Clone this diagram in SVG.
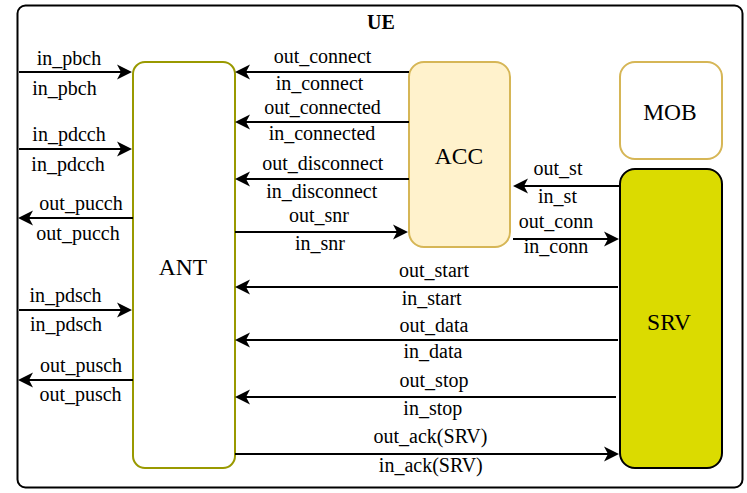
<svg xmlns="http://www.w3.org/2000/svg" width="747" height="493" viewBox="0 0 747 493">
<defs>
<marker id="arr" markerUnits="userSpaceOnUse" viewBox="-16 -8 17 16" refX="-3" refY="0" markerWidth="17" markerHeight="16" orient="auto">
<path d="M0,0 L-15,-7.5 L-11,0 L-15,7.5 Z" fill="#000"/>
</marker>
</defs>
<style>
.lbl{font-family:"Liberation Serif","Times New Roman",serif;font-size:20px;fill:#000;text-anchor:middle}
.nlbl{font-family:"Liberation Serif","Times New Roman",serif;font-size:23.5px;fill:#000;text-anchor:middle}
.edge{stroke:#000;stroke-width:2;fill:none;marker-end:url(#arr)}
</style>
<rect width="747" height="493" fill="#fff"/>
<g id="UE">
<rect x="17.5" y="5.5" width="725" height="482" rx="8" fill="#fff" stroke="#000" stroke-width="2"/>
<text x="381" y="29" class="nlbl" style="font-weight:bold;font-size:20px">UE</text>
</g>
<g id="ANT">
<rect x="133" y="62" width="102" height="406" rx="12" fill="#fff" stroke="#999900" stroke-width="2"/>
<text x="183" y="275" class="nlbl">ANT</text>
</g>
<g id="ACC">
<rect x="409" y="62" width="101" height="185" rx="15" fill="#FFF2CC" stroke="#D6B656" stroke-width="2"/>
<text x="459" y="164" class="nlbl">ACC</text>
</g>
<g id="MOB">
<rect x="620" y="62" width="102" height="97" rx="15" fill="#fff" stroke="#D6B656" stroke-width="2"/>
<text x="670" y="120" class="nlbl">MOB</text>
</g>
<g id="SRV">
<rect x="620" y="169" width="102" height="299" rx="15" fill="#DBDB00" stroke="#000" stroke-width="2"/>
<text x="669" y="330" class="nlbl">SRV</text>
</g>
<g id="connectors">
<line class="edge" x1="19" y1="72" x2="129" y2="72"/>
<line class="edge" x1="19" y1="149" x2="129" y2="149"/>
<line class="edge" x1="133" y1="218" x2="21" y2="218"/>
<line class="edge" x1="19" y1="310" x2="129" y2="310"/>
<line class="edge" x1="133" y1="380" x2="21" y2="380"/>
<line class="edge" x1="409" y1="72" x2="238" y2="72"/>
<line class="edge" x1="409" y1="122" x2="238" y2="122"/>
<line class="edge" x1="409" y1="179" x2="238" y2="179"/>
<line class="edge" x1="235" y1="232" x2="405" y2="232"/>
<line class="edge" x1="620" y1="186" x2="516" y2="186"/>
<line class="edge" x1="513" y1="239" x2="616" y2="239"/>
<line class="edge" x1="618" y1="287" x2="238" y2="287"/>
<line class="edge" x1="618" y1="340" x2="238" y2="340"/>
<line class="edge" x1="616" y1="397" x2="238" y2="397"/>
<line class="edge" x1="235" y1="454" x2="616" y2="454"/>
</g>
<g id="labels">
<text x="69" y="65" class="lbl">in_pbch</text>
<text x="64.5" y="95" class="lbl">in_pbch</text>
<text x="69" y="141" class="lbl">in_pdcch</text>
<text x="68" y="171" class="lbl">in_pdcch</text>
<text x="81" y="210" class="lbl">out_pucch</text>
<text x="78" y="240" class="lbl">out_pucch</text>
<text x="65.5" y="302" class="lbl">in_pdsch</text>
<text x="66" y="331" class="lbl">in_pdsch</text>
<text x="81" y="372" class="lbl">out_pusch</text>
<text x="80.5" y="401" class="lbl">out_pusch</text>
<text x="322.5" y="63" class="lbl">out_connect</text>
<text x="319.5" y="90" class="lbl">in_connect</text>
<text x="322.5" y="114" class="lbl">out_connected</text>
<text x="322" y="140" class="lbl">in_connected</text>
<text x="322.8" y="169.5" class="lbl">out_disconnect</text>
<text x="321.7" y="198" class="lbl">in_disconnect</text>
<text x="319" y="222" class="lbl">out_snr</text>
<text x="320" y="250" class="lbl">in_snr</text>
<text x="558" y="175" class="lbl">out_st</text>
<text x="557.5" y="203" class="lbl">in_st</text>
<text x="556" y="228" class="lbl">out_conn</text>
<text x="556" y="253" class="lbl">in_conn</text>
<text x="434" y="277" class="lbl">out_start</text>
<text x="431.7" y="305" class="lbl">in_start</text>
<text x="434" y="332" class="lbl">out_data</text>
<text x="433" y="358" class="lbl">in_data</text>
<text x="434" y="387" class="lbl">out_stop</text>
<text x="432.8" y="415" class="lbl">in_stop</text>
<text x="430.5" y="443" class="lbl">out_ack(SRV)</text>
<text x="430.8" y="472" class="lbl">in_ack(SRV)</text>
</g>
</svg>
